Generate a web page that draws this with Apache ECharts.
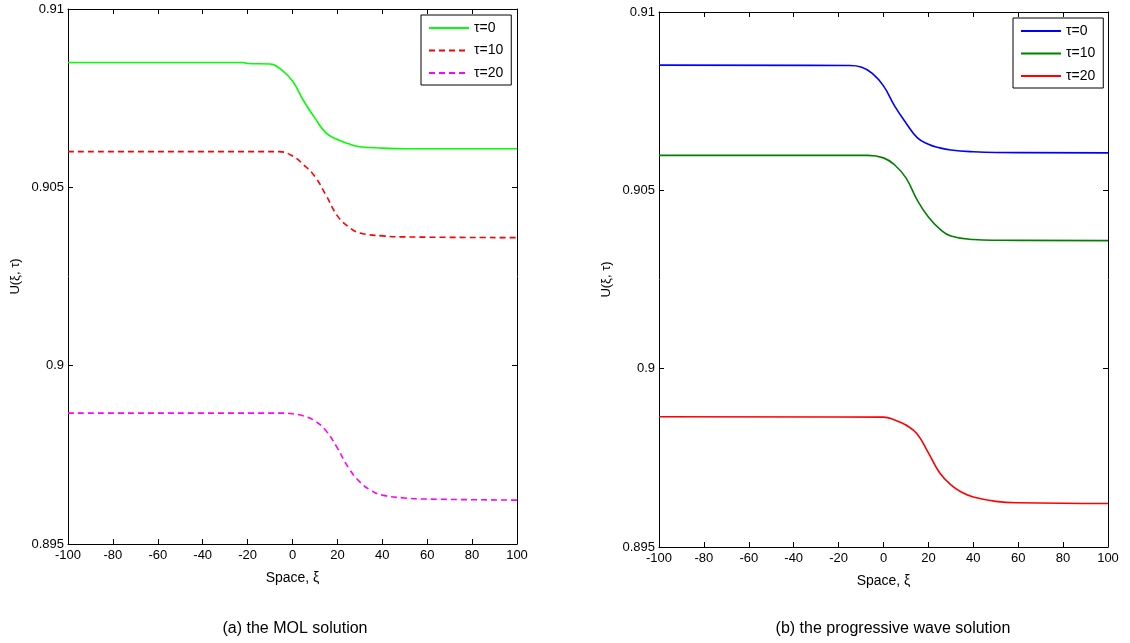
<!DOCTYPE html>
<html>
<head>
<meta charset="utf-8">
<script src="https://cdn.jsdelivr.net/npm/echarts@6/dist/echarts.min.js"></script>
<style>html,body{margin:0;padding:0;background:#fff}#c{width:1130px;height:643px}</style>
</head>
<body>
<div id="c"></div>
<script>
// ---------- data ----------
var xTicks = [-100, -80, -60, -40, -20, 0, 20, 40, 60, 80, 100];
var yTicks = [0.895, 0.9, 0.905, 0.91];

// (a) MOL solution
var molXi0  = [-100, -22, -20, -10, -5, 0, 5, 10, 15, 20, 25, 30, 40, 50, 100];
var molU0   = [0.90850, 0.90850, 0.90847, 0.90846, 0.90830, 0.90798, 0.90742, 0.90694, 0.90652, 0.90634, 0.90622, 0.90614, 0.90610, 0.90608, 0.90608];
var molXi10 = [-100, -6, 0, 5, 10, 15, 20, 25, 30, 40, 50, 100];
var molU10  = [0.90600, 0.90600, 0.90588, 0.90563, 0.90530, 0.90477, 0.90420, 0.90389, 0.90372, 0.90364, 0.90361, 0.90359];
var molXi20 = [-100, -4, 0, 5, 10, 15, 20, 25, 30, 35, 40, 50, 60, 100];
var molU20  = [0.89867, 0.89867, 0.89865, 0.89859, 0.89845, 0.89817, 0.89769, 0.89713, 0.89674, 0.89650, 0.89637, 0.89629, 0.89626, 0.89623];

// (b) progressive wave solution
var pwXi0  = [-100, -15, -10, -5, 0, 5, 10, 15, 20, 25, 30, 40, 50, 100];
var pwU0   = [0.90851, 0.90850, 0.90846, 0.90828, 0.90793, 0.90736, 0.90689, 0.90648, 0.90629, 0.90619, 0.90613, 0.90608, 0.90606, 0.90605];
var pwXi10 = [-100, -7, 0, 5, 10, 15, 20, 25, 30, 40, 50, 100];
var pwU10  = [0.90598, 0.90598, 0.90591, 0.90571, 0.90535, 0.90473, 0.90425, 0.90392, 0.90372, 0.90362, 0.90360, 0.90359];
var pwXi20 = [-100, 0, 5, 10, 15, 20, 25, 30, 35, 40, 50, 60, 100];
var pwU20  = [0.89865, 0.89864, 0.89856, 0.89842, 0.89817, 0.89764, 0.89708, 0.89674, 0.89653, 0.89640, 0.89628, 0.89624, 0.89622];

var names = ['τ=0', 'τ=10', 'τ=20'];
var captions = ['(a) the MOL solution', '(b) the progressive wave solution'];
var xName = 'Space, ξ';
var yName = 'U(ξ, τ)';

// ---------- chart ----------
function pairs(xs, ys) { return xs.map(function (x, i) { return [x, ys[i]]; }); }
var FONT = 'Liberation Sans, Arial, sans-serif';

var grids = [
  { left: 68, top: 9, width: 449, height: 535 },
  { left: 659, top: 12, width: 449, height: 535 }
];

var xAxes = [], yAxes = [];
grids.forEach(function (g, gi) {
  xAxes.push({
    type: 'value', gridIndex: gi, min: -100, max: 100, interval: 20, position: 'bottom',
    name: xName, nameLocation: 'middle', nameGap: 27,
    nameTextStyle: { color: '#000', fontSize: 14, fontFamily: FONT },
    axisLine: { show: true, onZero: false, lineStyle: { color: '#000', width: 1 } },
    axisTick: { show: true, inside: true, length: 5, lineStyle: { color: '#000' } },
    axisLabel: { color: '#000', fontSize: 13, fontFamily: FONT, margin: 5, showMinLabel: true, showMaxLabel: true },
    splitLine: { show: false }
  });
  xAxes.push({
    type: 'value', gridIndex: gi, min: -100, max: 100, interval: 20, position: 'top',
    axisLine: { show: true, onZero: false, lineStyle: { color: '#000', width: 1 } },
    axisTick: { show: true, inside: true, length: 5, lineStyle: { color: '#000' } },
    axisLabel: { show: false }, splitLine: { show: false }
  });
  yAxes.push({
    type: 'value', gridIndex: gi, min: yTicks[0], max: yTicks[yTicks.length - 1], interval: 0.005, position: 'left',
    name: yName, nameLocation: 'middle', nameGap: 46,
    nameTextStyle: { color: '#000', fontSize: 13, fontFamily: FONT },
    axisLine: { show: true, onZero: false, lineStyle: { color: '#000', width: 1 } },
    axisTick: { show: true, inside: true, length: 5, lineStyle: { color: '#000' } },
    axisLabel: { color: '#000', fontSize: 13, fontFamily: FONT, margin: 4, showMinLabel: true, showMaxLabel: true,
      formatter: function (v) { return String(+v.toFixed(3)); } },
    splitLine: { show: false }
  });
  yAxes.push({
    type: 'value', gridIndex: gi, min: yTicks[0], max: yTicks[yTicks.length - 1], interval: 0.005, position: 'right',
    axisLine: { show: true, onZero: false, lineStyle: { color: '#000', width: 1 } },
    axisTick: { show: true, inside: true, length: 5, lineStyle: { color: '#000' } },
    axisLabel: { show: false }, splitLine: { show: false }
  });
});

function mk(name, xi, u, color, dashed, gi) {
  return {
    type: 'line', name: name, xAxisIndex: gi * 2, yAxisIndex: gi * 2,
    data: pairs(xi, u), symbol: 'none', smooth: 0.45,
    lineStyle: { color: color, width: 1.6, type: dashed ? [6, 4] : 'solid' },
    itemStyle: { color: color }, animation: false
  };
}

var series = [
  mk(names[0] + ' a', molXi0, molU0, '#00ff00', false, 0),
  mk(names[1] + ' a', molXi10, molU10, '#ff0000', true, 0),
  mk(names[2] + ' a', molXi20, molU20, '#ff00ff', true, 0),
  mk(names[0] + ' b', pwXi0, pwU0, '#0000ff', false, 1),
  mk(names[1] + ' b', pwXi10, pwU10, '#008000', false, 1),
  mk(names[2] + ' b', pwXi20, pwU20, '#ff0000', false, 1)
];

function legend(suffix, left, top) {
  return {
    orient: 'vertical', left: left, top: top,
    data: names.map(function (n) { return n + suffix; }),
    formatter: function (n) { return n.split(' ')[0]; },
    itemWidth: 40, itemHeight: 14, itemGap: 8.5,
    itemStyle: { opacity: 0, borderWidth: 0 },
    padding: [6, 8, 5, 7],
    borderColor: '#000', borderWidth: 1, backgroundColor: '#fff',
    textStyle: { color: '#000', fontSize: 14, fontFamily: FONT },
    selectedMode: false
  };
}

var chart = echarts.init(document.getElementById('c'), null, { renderer: 'canvas' });
chart.setOption({
  backgroundColor: '#fff',
  animation: false,
  title: [
    { text: captions[0], left: 290, top: 616, textAlign: 'center',
      textStyle: { color: '#000', fontSize: 16, fontWeight: 'normal', fontFamily: FONT } },
    { text: captions[1], left: 888, top: 616, textAlign: 'center',
      textStyle: { color: '#000', fontSize: 16, fontWeight: 'normal', fontFamily: FONT } }
  ],
  legend: [legend(' a', 421, 15), legend(' b', 1013, 18)],
  grid: grids,
  xAxis: xAxes,
  yAxis: yAxes,
  series: series
});
</script>
</body>
</html>
